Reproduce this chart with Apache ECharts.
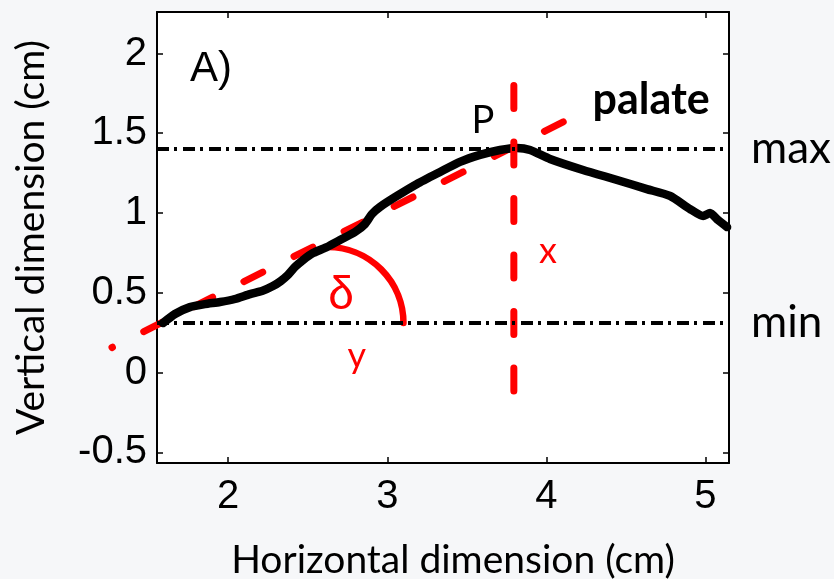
<!DOCTYPE html>
<html>
<head>
<meta charset="utf-8">
<script src="https://cdn.jsdelivr.net/npm/echarts@6/dist/echarts.min.js"></script>
<style>
  html, body { margin: 0; padding: 0; background: #f6f7f9; }
  #chart { width: 834px; height: 579px; }
</style>
</head>
<body>
<div id="chart"></div>
<script>
// axis ranges and ticks
var xRange = [1.552, 5.149];
var yRange = [-0.567, 2.26];
var xTicks = [2, 3, 4, 5];
var yTicks = [-0.5, 0, 0.5, 1, 1.5, 2];

// palate contour (black curve)
var curveX = [1.589, 1.665, 1.759, 1.853, 1.948, 2.042, 2.137, 2.212, 2.281, 2.331, 2.375, 2.419, 2.470, 2.533, 2.621, 2.703, 2.797, 2.860, 2.904, 2.954, 3.061, 3.187, 3.332, 3.457, 3.583, 3.709, 3.816, 3.898, 4.023, 4.231, 4.445, 4.633, 4.778, 4.904, 4.986, 5.030, 5.080, 5.137];
var curveY = [0.310, 0.367, 0.410, 0.429, 0.442, 0.461, 0.492, 0.511, 0.542, 0.574, 0.611, 0.661, 0.705, 0.749, 0.787, 0.831, 0.881, 0.931, 0.994, 1.038, 1.107, 1.182, 1.257, 1.320, 1.364, 1.395, 1.408, 1.395, 1.339, 1.270, 1.207, 1.150, 1.107, 1.025, 0.981, 1.000, 0.956, 0.912];

// red dashed palate line and vertical x line
var palateX = [1.269, 4.12];
var palateY = [0.157, 1.578];
var vertX = [3.796, 3.796];
var vertY = [1.80, -0.12];

// horizontal reference levels
var levelNames = ['max', 'min'];
var levelValues = [1.40, 0.31];

// angle arc: centre x, centre y, radius (x units)
var arcData = [[2.624, 0.31, 0.478]];

// annotations
var annoText = ['A)', 'P', 'palate', 'δ', 'x', 'y'];
var annoX = [1.891, 3.601, 4.659, 2.709, 4.010, 2.809];
var annoY = [1.897, 1.577, 1.708, 0.480, 0.762, 0.10];

var annoStyle = [
  { fontFamily: 'Liberation Sans', fontSize: 42, color: '#000' },
  { fontFamily: 'Lato', fontSize: 38, color: '#000' },
  { fontFamily: 'Lato', fontSize: 43, color: '#000', fontWeight: 'bold' },
  { fontFamily: 'Liberation Sans', fontSize: 46, color: '#ff0000' },
  { fontFamily: 'Lato', fontSize: 36, color: '#ff0000' },
  { fontFamily: 'Lato', fontSize: 36, color: '#ff0000' }
];

var myChart = echarts.init(document.getElementById('chart'));

function zip(a, b) {
  return a.map(function (v, i) { return [v, b[i]]; });
}

var tickStyle = { inside: true, length: 6, lineStyle: { color: '#000', width: 1.5 } };
var lineBlack = { show: true, onZero: false, lineStyle: { color: '#000', width: 2 } };

var option = {
  backgroundColor: '#f6f7f9',
  animation: false,
  grid: {
    left: 157, right: 105, top: 12, bottom: 116,
    show: true, backgroundColor: '#fff', borderWidth: 0,
    outerBoundsMode: 'none'
  },
  xAxis: [{
    type: 'value', min: xRange[0], max: xRange[1], position: 'bottom',
    axisLine: lineBlack,
    axisTick: Object.assign({ customValues: xTicks }, tickStyle),
    axisLabel: { customValues: xTicks, margin: 14, color: '#000', fontFamily: 'Liberation Sans', fontSize: 40 },
    splitLine: { show: false },
    name: 'Horizontal dimension (cm)', nameLocation: 'middle', nameGap: 78,
    nameTextStyle: { fontFamily: 'Lato', fontSize: 39, color: '#000', padding: [0, 0, 0, 20] }
  }, {
    type: 'value', min: xRange[0], max: xRange[1], position: 'top',
    axisLine: lineBlack,
    axisTick: Object.assign({ customValues: xTicks }, tickStyle),
    axisLabel: { show: false },
    splitLine: { show: false }
  }],
  yAxis: [{
    type: 'value', min: yRange[0], max: yRange[1], position: 'left',
    axisLine: lineBlack,
    axisTick: Object.assign({ customValues: yTicks }, tickStyle),
    axisLabel: { customValues: yTicks, margin: 10, color: '#000', fontFamily: 'Liberation Sans', fontSize: 40 },
    splitLine: { show: false },
    name: 'Vertical dimension (cm)', nameLocation: 'middle', nameGap: 106,
    nameTextStyle: { fontFamily: 'Lato', fontSize: 39, color: '#000' }
  }, {
    type: 'value', min: yRange[0], max: yRange[1], position: 'right',
    axisLine: lineBlack,
    axisTick: Object.assign({ customValues: yTicks }, tickStyle),
    axisLabel: { show: false },
    splitLine: { show: false }
  }],
  series: [
    {
      type: 'line', name: 'levels', data: [], silent: true,
      markLine: {
        silent: true, symbol: 'none',
        lineStyle: { color: '#000', width: 4, type: [12, 5, 3, 6] },
        label: { show: true, position: 'end', distance: 22, formatter: '{b}', color: '#000', fontFamily: 'Lato', fontSize: 44 },
        data: levelNames.map(function (n, i) { return { name: n, yAxis: levelValues[i] }; })
      }
    },
    {
      type: 'line', name: 'contour', data: zip(curveX, curveY),
      showSymbol: false, silent: true, smooth: 0.2,
      lineStyle: { color: '#000', width: 8.5, cap: 'round', join: 'round' }
    },
    {
      type: 'custom', name: 'angle', data: arcData, silent: true,
      renderItem: function (params, api) {
        var c = api.coord([api.value(0), api.value(1)]);
        var r = api.size([api.value(2), 0])[0];
        return {
          type: 'arc',
          shape: { cx: c[0], cy: c[1], r: r, startAngle: -Math.PI / 2, endAngle: 0, clockwise: true },
          style: { fill: null, stroke: '#ff0000', lineWidth: 6.5, lineCap: 'round' }
        };
      }
    },
    {
      type: 'custom', name: 'palate', silent: true, clip: false,
      data: [[palateX[0], palateY[0], palateX[1], palateY[1]]],
      renderItem: function (params, api) {
        var a = api.coord([api.value(0), api.value(1)]);
        var b = api.coord([api.value(2), api.value(3)]);
        return {
          type: 'polyline',
          shape: { points: [a, b] },
          style: { fill: null, stroke: '#ff0000', lineWidth: 7, lineDash: [21, 35], lineDashOffset: 20.5, lineCap: 'round' }
        };
      }
    },
    {
      type: 'line', name: 'x', data: zip(vertX, vertY),
      showSymbol: false, silent: true, clip: false,
      lineStyle: { color: '#ff0000', width: 7, type: [23, 33.5], cap: 'round' }
    },
    {
      type: 'scatter', name: 'labels', silent: true, symbolSize: 1,
      itemStyle: { color: 'rgba(0,0,0,0)', opacity: 1 },
      data: annoText.map(function (t, i) {
        return {
          value: [annoX[i], annoY[i]],
          label: Object.assign({ show: true, position: 'inside', formatter: t }, annoStyle[i])
        };
      })
    }
  ]
};

myChart.setOption(option);
window.addEventListener('resize', function () { myChart.resize(); });
</script>
</body>
</html>
